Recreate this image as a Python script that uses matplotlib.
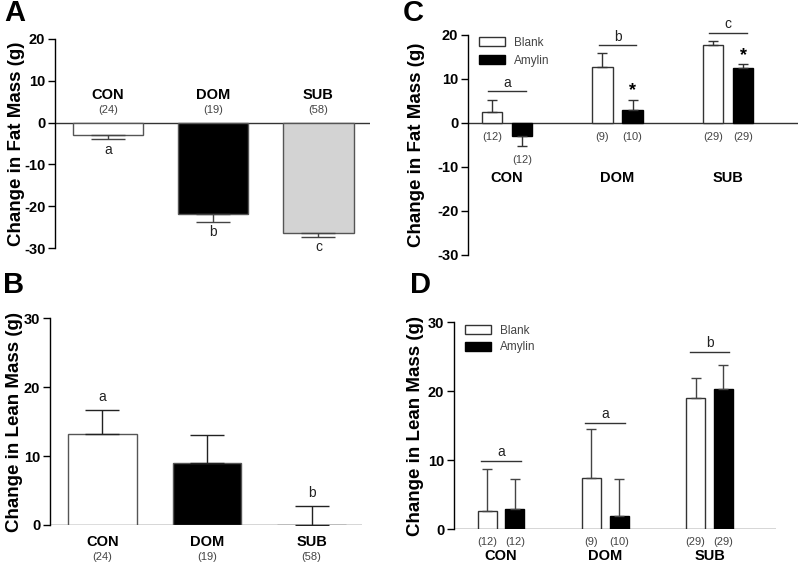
import matplotlib
matplotlib.use("Agg")
import matplotlib.pyplot as plt
import numpy as np

plt.rcParams['font.family'] = ['Liberation Sans', 'DejaVu Sans']

groups = ["CON", "DOM", "SUB"]

# panel A / B: whole group
fat_mean = [-3.0, -21.9, -26.3]
fat_err = [1.0, 1.8, 1.1]
fat_n = ["(24)", "(19)", "(58)"]
fat_letters = ["a", "b", "c"]
lean_mean = [13.2, 9.0, 0.0]
lean_err = [3.5, 4.0, 2.8]
lean_letters = ["a", "", "b"]
group_colors = ["white", "black", "#d3d3d3"]

# panel C / D: blank vs amylin
fat_blank = [2.4, 12.7, 17.7]
fat_blank_err = [2.9, 3.1, 0.9]
fat_amy = [-3.0, 3.0, 12.4]
fat_amy_err = [2.2, 2.3, 0.9]
fat_sig = ["a", "b", "c"]
fat_sig_y = [7.3, 17.7, 20.5]
fat_star = ["", "*", "*"]

lean_blank = [2.7, 7.5, 19.0]
lean_blank_err = [6.1, 7.1, 3.0]
lean_amy = [2.9, 2.0, 20.3]
lean_amy_err = [4.4, 5.3, 3.5]
lean_sig = ["a", "a", "b"]
lean_sig_y = [9.9, 15.4, 25.7]

n_blank = ["(12)", "(9)", "(29)"]
n_amy = ["(12)", "(10)", "(29)"]

W, H = 801, 565
fig = plt.figure(figsize=(W / 100, H / 100), dpi=100)


def px_axes(left, top, right, bottom):
    return fig.add_axes([left / W, 1 - bottom / H, (right - left) / W, (bottom - top) / H])


def style(ax, ylim, ticks, label, label_x_px, left_px, width_px):
    ax.set_ylim(*ylim)
    ax.set_yticks(ticks)
    ax.set_yticklabels([str(t) for t in ticks], fontsize=10.5, fontweight='bold')
    for s in ["top", "right", "bottom"]:
        ax.spines[s].set_visible(False)
    ax.spines["left"].set_linewidth(1.0)
    ax.tick_params(axis='y', length=5, width=1, pad=2)
    ax.set_xticks([])
    ax.axhline(0, color='#333333', lw=1.0, zorder=1)
    ax.set_ylabel(label, fontsize=13.5, fontweight='bold')
    # label x is the right (baseline) edge of the rotated label
    ax.yaxis.set_label_coords((label_x_px - left_px) / width_px, 0.5)
    ax.patch.set_alpha(0)


x = np.arange(3)

# ---- A
axA = px_axes(55, 39, 370, 248)
for i in range(3):
    axA.bar(x[i], fat_mean[i], 0.667, color=group_colors[i], edgecolor='#555555', lw=1.0, zorder=2)
    axA.errorbar(x[i], fat_mean[i], yerr=[[fat_err[i]], [0]], color='#444444', lw=1.0,
                 capsize=12.5, capthick=1.0, zorder=3)
    axA.text(x[i], fat_mean[i] - fat_err[i] - 0.8, fat_letters[i], ha='center', va='top', fontsize=10, color='#222222')
    axA.text(x[i], 6.5, groups[i], ha='center', va='center', fontsize=10.5, fontweight='bold')
    axA.text(x[i], 2.9, fat_n[i], ha='center', va='center', fontsize=8, color='#444444')
axA.set_xlim(-0.505, 2.49)
style(axA, (-30, 20), [-30, -20, -10, 0, 10, 20], "Change in Fat Mass (g)", 25, 55, 315)
fig.text(4 / W, 1 - 13 / H, "A", fontsize=21, fontweight='bold', va='center')

# ---- B
axB = px_axes(50, 318.3, 362, 525)
for i in range(3):
    axB.bar(x[i], lean_mean[i], 0.66, color=group_colors[i], edgecolor='#555555', lw=1.0, zorder=2)
    axB.errorbar(x[i], lean_mean[i], yerr=[[0], [lean_err[i]]], color='#222222', lw=1.0,
                 capsize=12.5, capthick=1.0, zorder=3)
    axB.text(x[i], lean_mean[i] + lean_err[i] + 0.9, lean_letters[i], ha='center', va='bottom', fontsize=10, color='#222222')
    axB.text(x[i], -2.4, groups[i], ha='center', va='center', fontsize=10.5, fontweight='bold')
    axB.text(x[i], -4.6, fat_n[i], ha='center', va='center', fontsize=8, color='#444444')
axB.set_xlim(-0.502, 2.483)
style(axB, (0, 30), [0, 10, 20, 30], "Change in Lean Mass (g)", 23, 50, 312)
fig.text(3 / W, 1 - 285 / H, "B", fontsize=21, fontweight='bold', va='center')

off = 0.136

# ---- C
axC = px_axes(468, 35, 798, 255)
bw = 0.186
axC.bar(x - off, fat_blank, bw, color='white', edgecolor='#333333', lw=1.0, zorder=2, label='Blank')
axC.bar(x + off, fat_amy, bw, color='black', edgecolor='black', lw=1.0, zorder=2, label='Amylin')
for i in range(3):
    for xx, m, e in [(x[i] - off, fat_blank[i], fat_blank_err[i]), (x[i] + off, fat_amy[i], fat_amy_err[i])]:
        yerr = [[0], [e]] if m >= 0 else [[e], [0]]
        axC.errorbar(xx, m, yerr=yerr, color='#333333', lw=1.0, capsize=3.8, capthick=1.0, zorder=3)
    axC.plot([x[i] - 0.17, x[i] + 0.17], [fat_sig_y[i]] * 2, color='#333333', lw=1.0, clip_on=False)
    axC.text(x[i], fat_sig_y[i] + 0.3, fat_sig[i], ha='center', va='bottom', fontsize=10, color='#222222')
    if fat_star[i]:
        axC.text(x[i] + off, fat_amy[i] + fat_amy_err[i] + 0.2, fat_star[i], ha='center', va='bottom',
                 fontsize=13, fontweight='bold')
    axC.text(x[i] - off, -3.1, n_blank[i], ha='center', va='center', fontsize=8, color='#444444')
    ny = -8.4 if fat_amy[i] < 0 else -3.1
    axC.text(x[i] + off, ny, n_amy[i], ha='center', va='center', fontsize=8, color='#444444')
    axC.text(x[i], -12.6, groups[i], ha='center', va='center', fontsize=10.5, fontweight='bold')
axC.set_xlim(-0.353, 2.633)
style(axC, (-30, 20), [-30, -20, -10, 0, 10, 20], "Change in Fat Mass (g)", 425, 468, 330)
axC.legend(loc='upper left', bbox_to_anchor=(0.0, 1.04), frameon=False, fontsize=8.5,
           handlelength=2.2, handleheight=0.8, labelspacing=0.5, labelcolor='#444444')
fig.text(403 / W, 1 - 13 / H, "C", fontsize=21, fontweight='bold', va='center')

# ---- D
axD = px_axes(454, 322.3, 776, 529.3)
bw = 0.182
off = 0.134
axD.bar(x - off, lean_blank, bw, color='white', edgecolor='#333333', lw=1.0, zorder=2, label='Blank')
axD.bar(x + off, lean_amy, bw, color='black', edgecolor='black', lw=1.0, zorder=2, label='Amylin')
for i in range(3):
    for xx, m, e in [(x[i] - off, lean_blank[i], lean_blank_err[i]), (x[i] + off, lean_amy[i], lean_amy_err[i])]:
        axD.errorbar(xx, m, yerr=[[0], [e]], color='#444444', lw=1.0, capsize=3.8, capthick=1.0, zorder=3)
    axD.plot([x[i] - 0.19, x[i] + 0.19], [lean_sig_y[i]] * 2, color='#333333', lw=1.0)
    axD.text(x[i], lean_sig_y[i] + 0.3, lean_sig[i], ha='center', va='bottom', fontsize=10, color='#222222')
    axD.text(x[i] - off, -1.8, n_blank[i], ha='center', va='center', fontsize=8, color='#444444')
    axD.text(x[i] + off, -1.8, n_amy[i], ha='center', va='center', fontsize=8, color='#444444')
    axD.text(x[i], -3.9, groups[i], ha='center', va='center', fontsize=10.5, fontweight='bold')
axD.set_xlim(-0.451, 2.638)
style(axD, (0, 30), [0, 10, 20, 30], "Change in Lean Mass (g)", 424, 454, 322)
axD.legend(loc='upper left', bbox_to_anchor=(0.0, 1.04), frameon=False, fontsize=8.5,
           handlelength=2.2, handleheight=0.8, labelspacing=0.4, labelcolor='#444444')
fig.text(410 / W, 1 - 285 / H, "D", fontsize=21, fontweight='bold', va='center')

fig.savefig("out.png", dpi=100)
